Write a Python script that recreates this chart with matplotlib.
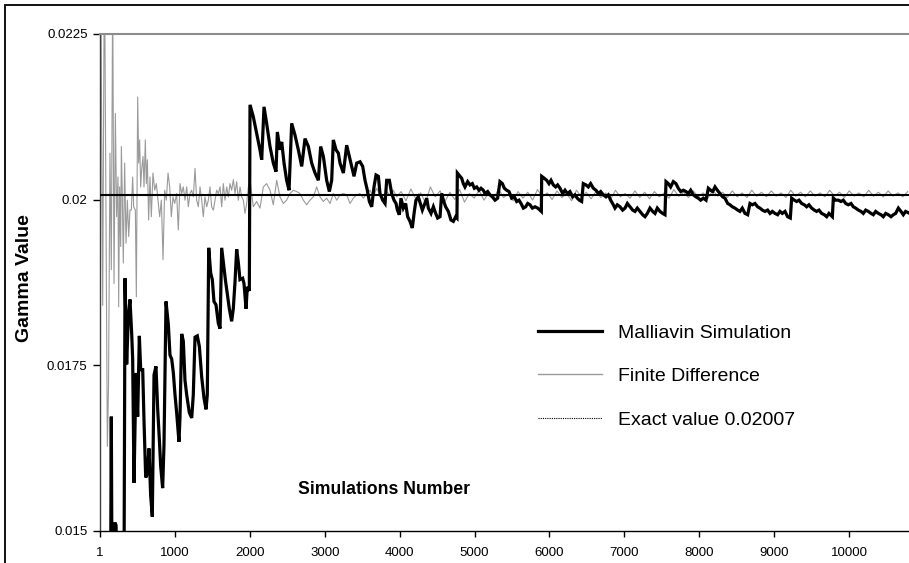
import matplotlib
matplotlib.use("Agg")
import matplotlib.pyplot as plt
from matplotlib.lines import Line2D
from matplotlib.patches import Rectangle

plt.rcParams["font.family"] = ["Liberation Sans", "DejaVu Sans"]

# Malliavin estimate (simulation number, gamma)
MALL_N = [
    1, 140, 152, 162, 188, 200, 215, 226, 320,
    335, 357, 379, 401, 424, 437, 455, 481, 504, 526, 544, 571, 588, 611, 632,
    655, 677, 699, 722, 748, 771, 792, 811, 837, 855, 882, 913, 935, 958, 980,
    1002, 1024, 1055, 1069, 1091, 1113, 1135, 1158, 1193, 1225, 1246, 1269,
    1300, 1327, 1358, 1389, 1416, 1433, 1452, 1478, 1500, 1522, 1549, 1580,
    1603, 1625, 1647, 1674, 1700, 1727, 1758, 1780, 1803, 1825, 1847, 1869,
    1905, 1923, 1950, 1967, 1994,
    2003, 2047, 2092, 2136, 2159, 2190, 2225, 2270, 2314, 2350, 2368, 2403,
    2426, 2457, 2492, 2524, 2559, 2604, 2648, 2693, 2737, 2782, 2826, 2871,
    2915, 2946, 2982, 3026, 3062, 3093, 3115, 3151, 3182, 3204, 3249, 3293,
    3329, 3360, 3391, 3427, 3471, 3507, 3538, 3569, 3596, 3627, 3658, 3685,
    3716, 3738, 3774, 3805, 3827, 3863, 3894, 3925, 3952, 3970, 3996,
    4018, 4049, 4080, 4107, 4138, 4169, 4196, 4218, 4249, 4276, 4303, 4330,
    4361, 4383, 4419, 4450, 4481, 4507, 4539, 4561, 4583, 4614, 4650, 4685,
    4717, 4748, 4765, 4770, 4806, 4828, 4850, 4872, 4908, 4939, 4970, 4997,
    5028, 5059, 5086, 5117, 5139, 5175, 5206, 5237, 5273, 5308, 5339, 5371,
    5397, 5428, 5460, 5495, 5531, 5562, 5593, 5620, 5651, 5682, 5709, 5740,
    5771, 5807, 5842, 5873, 5891, 5896, 5931, 5962, 5993, 6020, 6051, 6082,
    6109, 6140, 6176, 6207, 6238, 6273, 6309, 6340, 6371, 6398, 6429, 6451,
    6487, 6518, 6549, 6585, 6620, 6652, 6683, 6718, 6754, 6785, 6816, 6852,
    6874, 6905, 6941, 6976, 7008, 7039, 7074, 7110, 7141, 7172, 7208, 7243,
    7274, 7306, 7341, 7377, 7408, 7439, 7475, 7510, 7541, 7555, 7586, 7617,
    7653, 7688, 7719, 7751, 7786, 7822, 7853, 7884, 7920, 7955, 7986, 8017,
    8053, 8089, 8120, 8151, 8178, 8209, 8240, 8276, 8311, 8342, 8378, 8409,
    8440, 8475, 8511, 8542, 8573, 8609, 8645, 8676, 8707, 8742, 8778, 8809,
    8840, 8876, 8911, 8943, 8974, 9009, 9045, 9076, 9107, 9143, 9178, 9214,
    9232, 9267, 9299, 9330, 9365, 9401, 9432, 9463, 9499, 9534, 9565, 9597,
    9632, 9668, 9699, 9730, 9775, 9788, 9819, 9855, 9890, 9921, 9953, 9988,
    10024, 10055, 10086, 10122, 10157, 10188, 10220, 10255, 10291, 10322,
    10353, 10389, 10424, 10455, 10487, 10522, 10558, 10589, 10620, 10656,
    10691, 10722, 10753, 10789,
]
MALL_V = [
    0.01200, 0.01360, 0.01672, 0.01400, 0.01505, 0.01512, 0.01508, 0.01420, 0.01380,
    0.01881, 0.01751, 0.01824, 0.01849, 0.01797, 0.01759, 0.01572, 0.01738, 0.01672,
    0.01794, 0.01743, 0.01743, 0.01667, 0.01580, 0.01586, 0.01624, 0.01553, 0.01521,
    0.01735, 0.01748, 0.01683, 0.01640, 0.01597, 0.01564, 0.01629, 0.01846, 0.01811,
    0.01765, 0.01759, 0.01738, 0.01705, 0.01678, 0.01634, 0.01672, 0.01797, 0.01786,
    0.01727, 0.01705, 0.01678, 0.01670, 0.01705, 0.01792, 0.01794, 0.01778, 0.01732,
    0.01700, 0.01683, 0.01705, 0.01927, 0.01889, 0.01879, 0.01846, 0.01841, 0.01813,
    0.01805, 0.01927, 0.01905, 0.01879, 0.01857, 0.01835, 0.01816, 0.01835, 0.01876,
    0.01925, 0.01905, 0.01879, 0.01881, 0.01873, 0.01835, 0.01868, 0.01862,
    0.02143, 0.02125, 0.02100, 0.02075, 0.02060, 0.02140, 0.02115, 0.02080, 0.02055,
    0.02042, 0.02102, 0.02075, 0.02087, 0.02055, 0.02029, 0.02014, 0.02115, 0.02097,
    0.02075, 0.02050, 0.02092, 0.02080, 0.02055, 0.02040, 0.02029, 0.02080, 0.02065,
    0.02029, 0.02012, 0.02029, 0.02090, 0.02075, 0.02070, 0.02055, 0.02040, 0.02082,
    0.02065, 0.02050, 0.02035, 0.02055, 0.02057, 0.02050, 0.02029, 0.02014, 0.01997,
    0.01989, 0.02019, 0.02037, 0.02035, 0.02009, 0.01999, 0.01994, 0.02029, 0.02029,
    0.02009, 0.01999, 0.01994, 0.01984, 0.01977,
    0.02002, 0.01987, 0.01994, 0.01974, 0.01967, 0.01957, 0.01982, 0.01999, 0.02004,
    0.01994, 0.01984, 0.01992, 0.02002, 0.01987, 0.01979, 0.01989, 0.01979, 0.01972,
    0.01974, 0.02009, 0.01999, 0.01989, 0.01982, 0.01969, 0.01967, 0.01974, 0.01972,
    0.02040, 0.02035, 0.02032, 0.02024, 0.02019, 0.02027, 0.02022, 0.02024, 0.02017,
    0.02019, 0.02014, 0.02017, 0.02014, 0.02009, 0.02012, 0.02007, 0.02004, 0.01999,
    0.02002, 0.02027, 0.02024, 0.02017, 0.02014, 0.02012, 0.02002, 0.02004, 0.01997,
    0.01999, 0.01994, 0.01987, 0.01989, 0.01994, 0.01992, 0.01987, 0.01989, 0.01987,
    0.01984, 0.01982, 0.02035, 0.02032, 0.02029, 0.02024, 0.02029, 0.02022, 0.02019,
    0.02022, 0.02017, 0.02009, 0.02014, 0.02009, 0.02012, 0.02004, 0.02007, 0.02002,
    0.01999, 0.01997, 0.02024, 0.02022, 0.02019, 0.02024, 0.02017, 0.02014, 0.02009,
    0.02012, 0.02007, 0.02004, 0.02007, 0.01999, 0.01992, 0.01987, 0.01992, 0.01989,
    0.01984, 0.01987, 0.01994, 0.01989, 0.01984, 0.01982, 0.01987, 0.01982, 0.01977,
    0.01974, 0.01979, 0.01987, 0.01982, 0.01979, 0.01987, 0.01982, 0.01979, 0.01977,
    0.02027, 0.02024, 0.02019, 0.02027, 0.02024, 0.02017, 0.02012, 0.02014, 0.02012,
    0.02009, 0.02014, 0.02007, 0.02004, 0.02002, 0.01999, 0.02002, 0.01999, 0.02017,
    0.02014, 0.02012, 0.02019, 0.02014, 0.02009, 0.02004, 0.02002, 0.01994, 0.01992,
    0.01989, 0.01987, 0.01984, 0.01982, 0.01987, 0.01979, 0.01977, 0.01994, 0.01992,
    0.01994, 0.01989, 0.01987, 0.01984, 0.01982, 0.01984, 0.01979, 0.01982, 0.01979,
    0.01977, 0.01982, 0.01979, 0.01982, 0.01974, 0.01972, 0.02002, 0.01999, 0.01997,
    0.01999, 0.01994, 0.01992, 0.01989, 0.01992, 0.01987, 0.01984, 0.01982, 0.01984,
    0.01979, 0.01977, 0.01974, 0.01979, 0.01974, 0.02002, 0.01999, 0.01999, 0.01997,
    0.01999, 0.01994, 0.01992, 0.01994, 0.01989, 0.01987, 0.01984, 0.01982, 0.01979,
    0.01984, 0.01982, 0.01979, 0.01977, 0.01982, 0.01979, 0.01977, 0.01974, 0.01979,
    0.01977, 0.01974, 0.01977, 0.01979, 0.01987, 0.01982, 0.01977, 0.01982, 0.01980,
]

# finite difference estimate
FD_N = [
    1, 10, 37, 60, 99, 115, 134, 152, 170, 188, 206, 223, 241, 250, 263, 277,
    286, 299, 312, 330, 348, 366, 384, 401, 419, 437, 450, 473, 486, 504, 517,
    530, 544, 557, 575, 588, 606, 619, 633, 650, 668, 686, 708, 731, 753, 775,
    797, 820, 842, 864, 886, 909, 931, 953, 975, 998,
    1024, 1046, 1069, 1091, 1113, 1135, 1158, 1180, 1202, 1224, 1247, 1269,
    1291, 1313, 1336, 1358, 1380, 1402, 1425, 1447, 1469, 1491, 1514, 1536,
    1558, 1580, 1603, 1625, 1647, 1669, 1692, 1714, 1736, 1758, 1781, 1803,
    1825, 1847, 1870, 1892, 1914, 1936, 1959, 1981, 2003,
    2047, 2092, 2136, 2181, 2225, 2270, 2314, 2359, 2403, 2448, 2492, 2537,
    2581, 2626, 2670, 2715, 2759, 2804, 2848, 2893, 2937, 2982, 3026, 3071,
    3115, 3160, 3204, 3249, 3293, 3338, 3382, 3427, 3471, 3516, 3560, 3605,
    3649, 3694, 3738, 3783, 3827, 3872, 3916, 3961,
    4020, 4085, 4150, 4215, 4280, 4345, 4410, 4475, 4540, 4605, 4670, 4735,
    4800, 4865, 4930, 4995, 5060, 5125, 5190, 5255, 5320, 5385, 5450, 5515,
    5580, 5645, 5710, 5775, 5840, 5905, 5970, 6035, 6100, 6165, 6230, 6295,
    6360, 6425, 6490, 6555, 6620, 6685, 6750, 6815, 6880, 6945, 7010, 7075,
    7140, 7205, 7270, 7335, 7400, 7465, 7530, 7595, 7660, 7725, 7790, 7855,
    7920, 7985, 8050, 8115, 8180, 8245, 8310, 8375, 8440, 8505, 8570, 8635,
    8700, 8765, 8830, 8895, 8960, 9025, 9090, 9155, 9220, 9285, 9350, 9415,
    9480, 9545, 9610, 9675, 9740, 9805, 9870, 9935, 10000, 10065, 10130,
    10195, 10260, 10325, 10390, 10455, 10520, 10585, 10650, 10715, 10780,
]
FD_V = [
    0.02400, 0.02360, 0.01840, 0.02380, 0.01627, 0.01720, 0.02070, 0.01894,
    0.02320, 0.01873, 0.02130, 0.01974, 0.02034, 0.01838, 0.02019, 0.01929,
    0.02080, 0.02004, 0.01904, 0.02055, 0.01934, 0.01999, 0.01944, 0.01984,
    0.01984, 0.02034, 0.01989, 0.01984, 0.01853, 0.02155, 0.02055, 0.02090,
    0.02019, 0.02045, 0.02065, 0.02019, 0.02090, 0.02024, 0.02060, 0.01969,
    0.02034, 0.01974, 0.02040, 0.02014, 0.02024, 0.01999, 0.01974, 0.01999,
    0.01909, 0.02014, 0.01999, 0.02040, 0.02019, 0.01974, 0.02004, 0.01994,
    0.02009, 0.01954, 0.02024, 0.02009, 0.02019, 0.01999, 0.02019, 0.01989,
    0.02009, 0.02014, 0.02004, 0.02047, 0.01999, 0.01989, 0.02019, 0.01999,
    0.01974, 0.02004, 0.01989, 0.01999, 0.02019, 0.01989, 0.01984, 0.01999,
    0.02014, 0.02009, 0.02019, 0.01989, 0.02024, 0.01999, 0.02019, 0.02004,
    0.02024, 0.02014, 0.02030, 0.02009, 0.02027, 0.01999, 0.02019, 0.02004,
    0.01999, 0.01979, 0.01994, 0.02019, 0.02030,
    0.01989, 0.01997, 0.01987, 0.02019, 0.02024, 0.02014, 0.01992, 0.02029,
    0.02004, 0.01994, 0.01999, 0.02009, 0.02014, 0.02012, 0.02009, 0.01999,
    0.01992, 0.01999, 0.02004, 0.02019, 0.02004, 0.01997, 0.02002, 0.01994,
    0.02009, 0.01999, 0.02007, 0.02009, 0.02007, 0.01994, 0.02002, 0.02007,
    0.02009, 0.02002, 0.02009, 0.02014, 0.02004, 0.02017, 0.02007, 0.01999,
    0.02012, 0.02007, 0.02014, 0.02004,
    0.02012, 0.01998, 0.02016, 0.02001, 0.02010, 0.01995, 0.02019, 0.02004,
    0.02013, 0.01997, 0.02011, 0.02000, 0.02015, 0.01996, 0.02009, 0.02002,
    0.02014, 0.01999, 0.02010, 0.02001, 0.02016, 0.02003, 0.02008, 0.01998,
    0.02012, 0.02002, 0.02011, 0.01999, 0.02015, 0.02004, 0.02010, 0.02000,
    0.02013, 0.02003, 0.02009, 0.01998, 0.02014, 0.02004, 0.02011, 0.02001,
    0.02012, 0.02003, 0.02010, 0.02000, 0.02014, 0.02004, 0.02009, 0.02002,
    0.02013, 0.02003, 0.02011, 0.02001, 0.02012, 0.02004, 0.02010, 0.02002,
    0.02015, 0.02005, 0.02011, 0.02003, 0.02013, 0.02004, 0.02010, 0.02002,
    0.02014, 0.02005, 0.02011, 0.02003, 0.02013, 0.02004, 0.02010, 0.02003,
    0.02014, 0.02005, 0.02011, 0.02004, 0.02013, 0.02005, 0.02010, 0.02003,
    0.02014, 0.02005, 0.02011, 0.02004, 0.02013, 0.02005, 0.02010, 0.02004,
    0.02014, 0.02005, 0.02011, 0.02003, 0.02013, 0.02005, 0.02010, 0.02004,
    0.02014, 0.02005, 0.02011, 0.02004, 0.02013, 0.02005, 0.02010, 0.02004,
    0.02012,
]

EXACT = 0.02007

X_TICKS = [1, 1000, 2000, 3000, 4000, 5000, 6000, 7000, 8000, 9000, 10000]
Y_TICKS = [0.015, 0.0175, 0.02, 0.0225]
Y_TICK_LABELS = ["0.015", "0.0175", "0.02", "0.0225"]

W, H = 909, 563
fig = plt.figure(figsize=(W / 100, H / 100), dpi=100)

# outer chart frame (cut off on the right and bottom)
fig.patches.append(Rectangle((5 / W, -0.5), 2, 1 - 5 / H + 0.5, transform=fig.transFigure,
                             fill=False, edgecolor="#111111", linewidth=1.4))

ax = fig.add_axes([100 / W, 1 - 530.5 / H, (W - 100) / W, (530.5 - 34) / H])
ax.set_xlim(1, 10798)
ax.set_ylim(0.015, 0.0225)

ax.plot(FD_N, FD_V, color="#9a9a9a", linewidth=0.8, zorder=2)
ax.axhline(EXACT, color="black", linewidth=1.5, zorder=3)
ax.plot(MALL_N, MALL_V, color="black", linewidth=2.3, zorder=4, solid_joinstyle="miter")

ax.spines["right"].set_visible(False)
ax.spines["top"].set_color("#8c8c8c")
ax.spines["top"].set_linewidth(1.5)
ax.spines["left"].set_color("#404040")
ax.spines["left"].set_linewidth(1.0)
ax.spines["bottom"].set_color("black")
ax.spines["bottom"].set_linewidth(1.0)

ax.set_xticks(X_TICKS)
ax.set_xticklabels([str(t) for t in X_TICKS])
ax.set_yticks(Y_TICKS)
ax.set_yticklabels(Y_TICK_LABELS)
ax.tick_params(axis="x", direction="out", length=4, width=1, pad=8, labelsize=9.5)
ax.tick_params(axis="y", direction="out", length=5, width=1, pad=4, labelsize=9.5)

fig.text(25 / W, 1 - 278 / H, "Gamma Value", rotation=90, ha="center", va="center",
         fontsize=14, fontweight="bold")
fig.text(298 / W, 1 - 490 / H, "Simulations Number", ha="left", va="center",
         fontsize=12.7, fontweight="bold")

handles = [
    Line2D([], [], color="black", linewidth=2.3),
    Line2D([], [], color="#9a9a9a", linewidth=1.0),
    Line2D([], [], color="black", linewidth=0.8, linestyle=(0, (1, 1))),
]
labels = ["Malliavin Simulation", "Finite Difference", "Exact value 0.02007"]
ax.legend(handles, labels, loc="upper left", bbox_to_anchor=(538 / W, 1 - 324 / H),
          bbox_transform=fig.transFigure, frameon=False, fontsize=14,
          handlelength=3.3, handletextpad=0.8, labelspacing=1.33,
          borderpad=0, borderaxespad=0)

fig.savefig("out.png", dpi=100)
